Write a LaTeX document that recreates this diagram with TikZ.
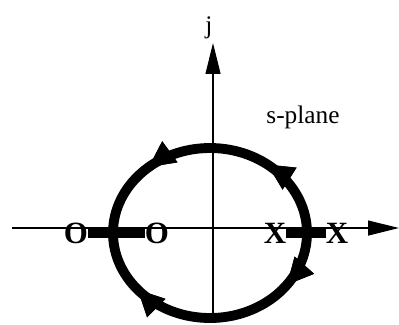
\documentclass[tikz,border=0pt]{standalone}
\usepackage{fontspec}
\setmainfont{Liberation Serif}
\usetikzlibrary{arrows.meta,positioning,decorations.markings}
\tikzset{
  axisarr/.style={-{Triangle[length=22pt,width=10.5pt]}, line width=1.4pt},
  locus/.style={line width=7pt},
  markbar/.style={line width=6.6pt},
  pzmark/.style={inner sep=0pt, font=\fontsize{22}{24}\selectfont\bfseries},
  lbl/.style={inner sep=0pt, font=\fontsize{18}{20}\selectfont},
  locusarr/.style={decoration={markings,
    mark=at position #1 with {\arrow{Triangle[length=19pt,width=17pt]}}},
    postaction={decorate}}
}
\begin{document}
\begin{tikzpicture}[x=0.025cm, y=-0.025cm]
  \useasboundingbox (0,0) rectangle (399,324);
  % axes
  \coordinate (xl) at (12,228);
  \coordinate (xr) at (399,228);
  \coordinate (yb) at (213,318);
  \coordinate (yt) at (213,43);
  \draw[axisarr] (xl) -- (xr);
  \draw[axisarr] (yb) -- (yt);
  \node[lbl] (jlab) at (209,28) {j};
  \node[lbl] (plane) at (303,117) {s-plane};
  % poles and zeros
  \node[pzmark] (z1) at (76,233) {O};
  \node[pzmark] (z2) at (157,233) {O};
  \node[pzmark] (p1) at (275,233) {X};
  \node[pzmark] (p2) at (337,233) {X};
  \draw[markbar] (z1.east) -- (z2.west);
  \draw[markbar] (p1.east) -- (p2.west);
  % locus
  \coordinate (lc) at (210,233);
  \draw[locus, locusarr/.list={0.29,0.73}] (lc) ++(97,0) arc[start angle=0, end angle=180, x radius=97, y radius=-85];
  \draw[locus, locusarr/.list={0.2,0.78}] (lc) ++(97,0) arc[start angle=0, end angle=-180, x radius=97, y radius=-85];
\end{tikzpicture}
\end{document}
